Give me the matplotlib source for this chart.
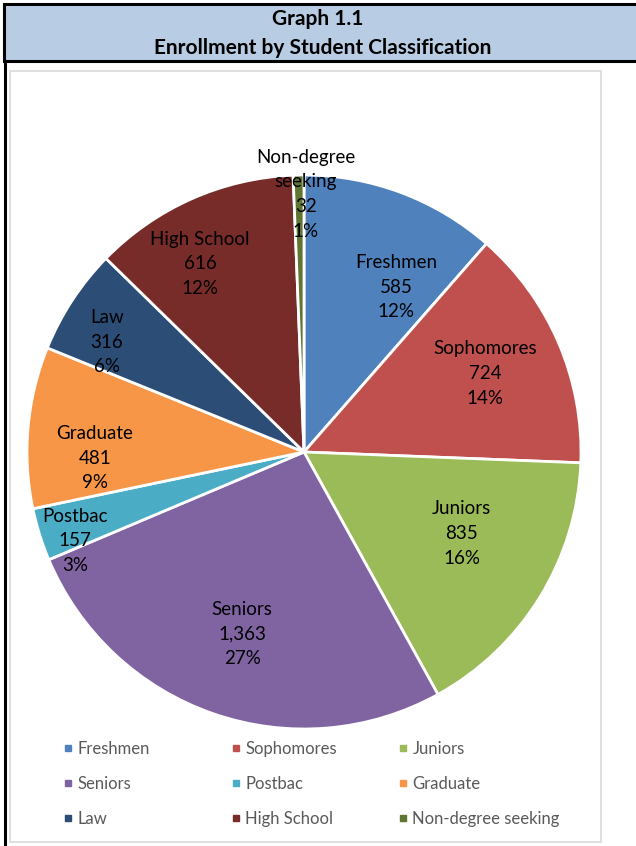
import matplotlib.pyplot as plt
from matplotlib.lines import Line2D
from matplotlib.patches import Rectangle
from matplotlib.transforms import ScaledTranslation
import numpy as np

W, H = 636, 846

categories = ['Freshmen', 'Sophomores', 'Juniors', 'Seniors', 'Postbac',
              'Graduate', 'Law', 'High School', 'Non-degree seeking']
counts = [585, 724, 835, 1363, 157, 481, 316, 616, 32]
pct_labels = ['12%', '14%', '16%', '27%', '3%', '9%', '6%', '12%', '1%']
slice_names = ['Freshmen', 'Sophomores', 'Juniors', 'Seniors', 'Postbac',
               'Graduate', 'Law', 'High School', 'Non-degree\nseeking']
colors = ['#4F81BD', '#C0504D', '#9BBB59', '#8064A2', '#4BACC6',
          '#F79646', '#2C4D75', '#772C2A', '#5F7530']

# label placement (fraction of radius, clockwise angle shift in degrees)
label_r = [0.686, 0.714, 0.639, 0.69, 0.886, 0.755, 0.816, 0.78, 0.935]
label_shift = [8.4, -0.5, -4.7, -0.2, -3.6, -6.5, -3.8, -4.8, 1.5]


def fx(px):
    return px / W


def fy(py):
    return 1 - py / H


def main():
    plt.rcParams['font.family'] = ['Lato', 'DejaVu Sans']
    fig = plt.figure(figsize=(W / 100, H / 100), dpi=100)

    # frames
    fig.add_artist(Rectangle((fx(4), fy(61)), fx(640) - fx(4), fy(4) - fy(61),
                             transform=fig.transFigure, facecolor='#B8CCE4',
                             edgecolor='black', linewidth=2.2, clip_on=False))
    fig.add_artist(Line2D([fx(4.5), fx(4.5)], [fy(61), fy(846)],
                          transform=fig.transFigure, color='black', linewidth=2.2))
    fig.add_artist(Rectangle((fx(10), fy(842)), fx(601) - fx(10), fy(71) - fy(842),
                             transform=fig.transFigure, facecolor='none',
                             edgecolor='#D9D9D9', linewidth=1.2))

    fig.text(fx(318), fy(19), 'Graph 1.1', ha='center', va='center',
             fontsize=15, fontweight='bold')
    fig.text(fx(323), fy(47.5), 'Enrollment by Student Classification',
             ha='center', va='center', fontsize=15, fontweight='bold')

    # pie: center (304, 452), radius 277 px
    size = 600
    ax = fig.add_axes([fx(304 - size / 2), fy(452 + size / 2), size / W, size / H])
    lim = (size / 2) / 277
    wedges, _ = ax.pie(counts, colors=colors, startangle=90, counterclock=False,
                       wedgeprops=dict(edgecolor='white', linewidth=2))
    ax.set_xlim(-lim, lim)
    ax.set_ylim(-lim, lim)
    ax.set_aspect('equal')
    ax.axis('off')

    nudge = ax.transData + ScaledTranslation(0, -1.2 / 100, fig.dpi_scale_trans)
    for i, w in enumerate(wedges):
        ang = np.deg2rad((w.theta1 + w.theta2) / 2 - label_shift[i])
        r = label_r[i]
        txt = f"{slice_names[i]}\n{counts[i]:,}\n{pct_labels[i]}"
        ax.text(r * np.cos(ang), r * np.sin(ang), txt, ha='center', va='center',
                fontsize=13.5, color='black', linespacing=1.55, transform=nudge)

    # legend, one column at a time (row-major order as in the original)
    col_x = [64, 232, 399]
    for c in range(3):
        idx = [c, c + 3, c + 6]
        handles = [Line2D([], [], marker='s', linestyle='none', color=colors[i],
                          markersize=5) for i in idx]
        fig.legend(handles, [categories[i] for i in idx], loc='upper left',
                   bbox_to_anchor=(fx(col_x[c]), fy(740.5)), frameon=False,
                   fontsize=12, labelcolor='#595959', handlelength=0.45,
                   handletextpad=0.35, labelspacing=1.15, borderpad=0,
                   borderaxespad=0)

    fig.savefig('out.png', dpi=100)


if __name__ == "__main__":
    main()
